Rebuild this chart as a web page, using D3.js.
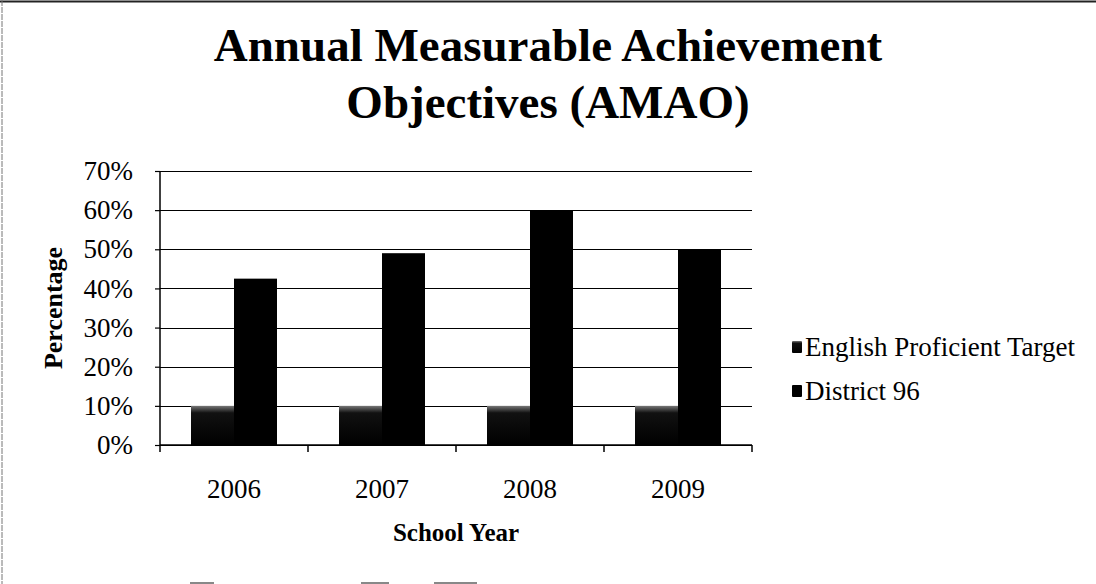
<!DOCTYPE html>
<html>
<head>
<meta charset="utf-8">
<script src="https://cdn.jsdelivr.net/npm/d3@7/dist/d3.min.js"></script>
<style>
  html, body { margin: 0; padding: 0; background: #fff; }
  svg { display: block; }
  text { font-family: "Liberation Serif", "Times New Roman", serif; fill: #000; }
</style>
</head>
<body>
<svg id="chart" width="1096" height="584"></svg>
<script>
const years = ["2006", "2007", "2008", "2009"];
const seriesNames = ["English Proficient Target", "District 96"];
const englishTarget = [10, 10, 10, 10];
const district96 = [42.5, 49, 60, 50];
const yTicks = [0, 10, 20, 30, 40, 50, 60, 70];
const titleLines = ["Annual Measurable Achievement", "Objectives (AMAO)"];

const svg = d3.select("#chart");
const W = 1096, H = 584;
const plot = { left: 160, right: 752, top: 171, bottom: 445 };

// frame pieces
svg.append("line").attr("x1", 0).attr("x2", W).attr("y1", 1.5).attr("y2", 1.5)
  .attr("stroke", "#222").attr("stroke-width", 2);
svg.append("line").attr("x1", 2).attr("x2", 2).attr("y1", 0).attr("y2", H)
  .attr("stroke", "#777").attr("stroke-width", 1).attr("stroke-dasharray", "6,1");
[[190, 214], [361, 389], [434, 477]].forEach(s => {
  svg.append("line").attr("x1", s[0]).attr("x2", s[1]).attr("y1", 583).attr("y2", 583)
    .attr("stroke", "#888").attr("stroke-width", 2);
});

// title
const title = svg.append("text").attr("text-anchor", "middle")
  .style("font-size", "47px").style("font-weight", "bold");
titleLines.forEach((t, i) => {
  title.append("tspan").attr("x", 548).attr("y", 61 + i * 57).text(t);
});

const x = d3.scaleBand().domain(years).range([plot.left, plot.right]).paddingInner(0).paddingOuter(0);
const xs = d3.scaleBand().domain(seriesNames).range([31, x.bandwidth() - 31]).padding(0);
const y = d3.scaleLinear().domain([0, 70]).range([plot.bottom, plot.top]);

// gradient for target series
const defs = svg.append("defs");
const g1 = defs.append("linearGradient").attr("id", "tgt").attr("x1", 0).attr("x2", 0).attr("y1", 0).attr("y2", 1);
g1.append("stop").attr("offset", "0%").attr("stop-color", "#777");
g1.append("stop").attr("offset", "18%").attr("stop-color", "#111");
g1.append("stop").attr("offset", "100%").attr("stop-color", "#000");

// gridlines
svg.append("g").selectAll("line").data(yTicks).join("line")
  .attr("x1", plot.left).attr("x2", plot.right)
  .attr("y1", d => Math.round(y(d)) + 0.5).attr("y2", d => Math.round(y(d)) + 0.5)
  .attr("stroke", "#000").attr("stroke-width", 1.2);

// bars
const data = years.map((yr, i) => ({ year: yr, values: [englishTarget[i], district96[i]] }));
const groups = svg.append("g").selectAll("g").data(data).join("g")
  .attr("transform", d => `translate(${x(d.year)},0)`);
groups.selectAll("rect").data(d => d.values.map((v, j) => ({ name: seriesNames[j], v })))
  .join("rect")
  .attr("x", d => xs(d.name))
  .attr("width", xs.bandwidth())
  .attr("y", d => y(d.v))
  .attr("height", d => y(0) - y(d.v))
  .attr("fill", d => d.name === seriesNames[0] ? "url(#tgt)" : "#000");

// y axis
const yAxis = d3.axisLeft(y).tickValues(yTicks).tickFormat(d => d + "%").tickSize(5).tickPadding(22);
const yg = svg.append("g").attr("transform", `translate(${plot.left},0)`).call(yAxis);
yg.select(".domain").attr("stroke", "#000").attr("stroke-width", 1.5).attr("d", `M0,${plot.top}V${plot.bottom}`);
yg.selectAll(".tick line").attr("stroke", "#000").attr("stroke-width", 1.2);
yg.selectAll(".tick text").style("font-size", "27px").style("font-family", "Liberation Serif, serif").attr("fill", "#000");

// x axis
const xAxis = d3.axisBottom(x).tickSize(0).tickPadding(34);
const xg = svg.append("g").attr("transform", `translate(0,${plot.bottom})`).call(xAxis);
xg.select(".domain").attr("stroke", "#000").attr("stroke-width", 1.5).attr("d", `M${plot.left},0H${plot.right}`);
xg.selectAll(".tick text").style("font-size", "27px").style("font-family", "Liberation Serif, serif").attr("fill", "#000");
const boundaries = years.map(d => x(d)).concat([plot.right]);
xg.append("g").selectAll("line").data(boundaries).join("line")
  .attr("x1", d => d).attr("x2", d => d).attr("y1", 0).attr("y2", 7)
  .attr("stroke", "#000").attr("stroke-width", 1.5);

// axis titles
svg.append("text").attr("transform", `translate(62,${(plot.top + plot.bottom) / 2}) rotate(-90)`)
  .attr("text-anchor", "middle").style("font-size", "26px").style("font-weight", "bold").text("Percentage");
svg.append("text").attr("x", (plot.left + plot.right) / 2).attr("y", 541)
  .attr("text-anchor", "middle").style("font-size", "25px").style("font-weight", "bold").text("School Year");

// legend
const legend = svg.append("g").attr("transform", "translate(792,0)");
const legendY = [348, 392];
seriesNames.forEach((n, i) => {
  legend.append("rect").attr("x", 0).attr("y", legendY[i] - 7).attr("width", 10).attr("height", 12)
    .attr("rx", 1).attr("fill", i === 0 ? "url(#tgt)" : "#000");
  legend.append("text").attr("x", 13).attr("y", legendY[i] + 8).style("font-size", "27px").text(n);
});
</script>
</body>
</html>
